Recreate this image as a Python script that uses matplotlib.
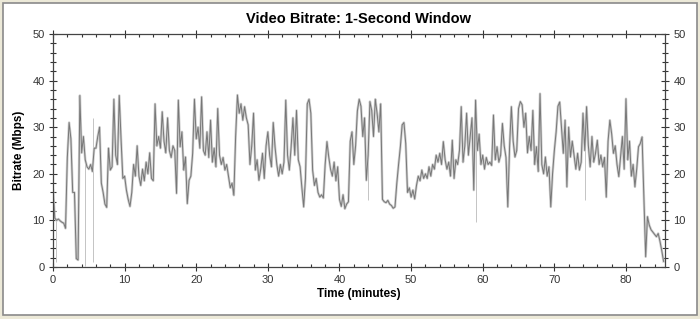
import numpy as np
import matplotlib
matplotlib.use('Agg')
import matplotlib.pyplot as plt
from matplotlib.patches import Rectangle
from matplotlib.ticker import MultipleLocator

plt.rcParams['font.family'] = ['Liberation Sans', 'DejaVu Sans']

# bitrate (Mbps), one value every 15 s, one row per minute
bitrate = [
    16.5, 10.5, 10.0, 10.3,   # 0
    9.9, 9.6, 9.4, 8.3,       # 1
    23.5, 31.0, 27.5, 16.0,   # 2
    16.0, 1.8, 1.5, 36.8,     # 3
    24.5, 28.0, 23.0, 21.5,   # 4
    21.0, 22.0, 20.5, 25.5,   # 5
    25.5, 28.0, 30.0, 18.0,   # 6
    16.0, 13.5, 12.8, 25.5,   # 7
    20.8, 21.5, 36.0, 24.0,   # 8
    22.0, 36.8, 27.5, 19.0,   # 9
    19.5, 16.5, 14.5, 13.0,   # 10
    16.0, 22.0, 19.5, 26.0,   # 11
    19.5, 17.5, 21.0, 18.5,   # 12
    22.5, 20.0, 24.5, 19.0,   # 13
    18.5, 35.0, 26.0, 28.0,   # 14
    25.5, 33.3, 27.0, 24.5,   # 15
    32.0, 25.0, 23.5, 26.0,   # 16
    25.0, 15.8, 35.8, 25.8,   # 17
    29.0, 20.8, 23.6, 13.6,   # 18
    18.6, 19.5, 24.4, 36.0,   # 19
    27.5, 30.0, 25.5, 36.5,   # 20
    25.0, 24.0, 29.0, 23.5,   # 21
    31.5, 22.5, 25.5, 21.5,   # 22
    34.0, 24.0, 22.0, 23.5,   # 23
    20.8, 22.0, 19.5, 17.0,   # 24
    18.0, 15.4, 28.0, 36.9,   # 25
    33.0, 35.0, 31.5, 34.4,   # 26
    32.0, 30.5, 22.0, 26.0,   # 27
    33.0, 20.8, 23.0, 18.6,   # 28
    21.0, 24.4, 19.0, 26.0,   # 29
    29.0, 24.0, 21.5, 31.0,   # 30
    25.8, 22.0, 19.5, 22.0,   # 31
    20.0, 22.5, 35.8, 24.0,   # 32
    20.8, 25.8, 32.0, 24.0,   # 33
    33.6, 23.0, 21.5, 17.0,   # 34
    12.9, 19.0, 35.0, 36.0,   # 35
    33.0, 20.8, 17.5, 19.0,   # 36
    16.0, 15.0, 15.5, 14.8,   # 37
    22.0, 26.9, 23.6, 21.0,   # 38
    19.5, 22.5, 18.5, 21.5,   # 39
    14.5, 13.0, 15.5, 12.5,   # 40
    13.5, 14.0, 27.0, 29.0,   # 41
    22.0, 26.0, 33.5, 36.0,   # 42
    34.5, 28.0, 32.0, 18.6,   # 43
    24.0, 35.5, 33.6, 28.0,   # 44
    36.0, 33.0, 29.0, 35.0,   # 45
    14.5, 14.0, 13.8, 14.3,   # 46
    13.5, 13.2, 12.6, 12.9,   # 47
    17.9, 22.0, 25.8, 30.5,   # 48
    31.0, 26.5, 16.0, 17.0,   # 49
    15.0, 16.5, 14.6, 17.5,   # 50
    19.5, 18.5, 20.8, 19.0,   # 51
    20.0, 19.0, 21.5, 19.5,   # 52
    22.0, 21.0, 24.0, 22.5,   # 53
    24.4, 22.0, 26.9, 23.0,   # 54
    21.0, 22.5, 19.5, 27.2,   # 55
    19.0, 23.0, 22.0, 25.0,   # 56
    34.4, 22.5, 26.0, 33.0,   # 57
    24.0, 28.0, 32.0, 16.5,   # 58
    35.8, 25.0, 28.5, 22.0,   # 59
    24.0, 21.0, 23.5, 22.0,   # 60
    22.5, 21.8, 32.6, 23.0,   # 61
    25.8, 22.5, 24.0, 30.8,   # 62
    26.0, 23.5, 12.9, 25.8,   # 63
    34.4, 27.0, 23.6, 25.0,   # 64
    34.0, 35.5, 34.8, 30.0,   # 65
    33.0, 24.5, 28.0, 25.0,   # 66
    33.6, 22.0, 25.8, 20.5,   # 67
    37.2, 22.0, 20.0, 23.6,   # 68
    19.5, 21.5, 12.9, 20.0,   # 69
    25.0, 29.0, 34.5, 35.4,   # 70
    30.0, 24.4, 31.5, 17.2,   # 71
    30.0, 23.6, 27.0, 24.0,   # 72
    21.0, 24.4, 20.8, 22.5,   # 73
    33.0, 25.0, 34.4, 26.0,   # 74
    21.5, 28.0, 22.5, 24.4,   # 75
    27.2, 22.0, 24.0, 21.5,   # 76
    23.5, 15.0, 27.0, 31.5,   # 77
    28.6, 24.4, 26.0, 22.0,   # 78
    19.4, 23.6, 28.0, 21.0,   # 79
    36.1, 23.0, 27.0, 19.5,   # 80
    22.0, 17.2, 21.0, 25.8,   # 81
    26.5, 27.9, 15.0, 2.2,    # 82
    10.8, 9.0, 8.0, 7.5,      # 83
    7.0, 6.5, 7.2, 5.5,       # 84
    3.5, 1.2,                 # 85
]
minutes = np.arange(len(bitrate)) * 0.25

# short light-grey peaks / drops
spike_t = [0.35, 4.47, 5.58, 44.05, 59.0, 74.3]
spike_lo = [1.0, 0.3, 1.0, 14.4, 9.7, 14.4]
spike_hi = [10.5, 23.0, 32.0, 30.0, 35.8, 30.0]

fig = plt.figure(figsize=(7.0, 3.19), dpi=100)
fig.patch.set_facecolor('#ece9d8')
frame = Rectangle((3 / 700, 4 / 319), 694 / 700, 312 / 319,
                  transform=fig.transFigure, facecolor='white',
                  edgecolor='#8a8a8a', linewidth=1.2, zorder=-5)
fig.patches.append(frame)

ax = fig.add_axes([53 / 700, 1 - 267 / 319, 612 / 700, 233 / 319])
ax.set_zorder(2)
ax.set_facecolor('white')

ax.vlines(spike_t, spike_lo, spike_hi, color='#c4c4c4', linewidth=0.7)
ax.plot(minutes, bitrate, color='#cdcdcd', linewidth=1.8)
ax.plot(minutes, bitrate, color='#777777', linewidth=0.7)

ax.set_xlim(0, 85.45)
ax.set_ylim(0, 50)
ax.xaxis.set_major_locator(MultipleLocator(10))
ax.xaxis.set_minor_locator(MultipleLocator(2))
ax.yaxis.set_major_locator(MultipleLocator(10))
ax.yaxis.set_minor_locator(MultipleLocator(2))

ax.tick_params(axis='both', which='both', colors='#333333', labelsize=8,
               top=True, right=True, labelright=True)
ax.tick_params(axis='y', which='major', direction='inout', length=6, width=0.8, pad=3)
ax.tick_params(axis='y', which='minor', direction='inout', length=4, width=0.8)
ax.tick_params(axis='x', which='major', direction='inout', length=6, width=0.8, pad=3)
ax.tick_params(axis='x', which='minor', direction='in', length=2.5, width=0.8)
for s in ax.spines.values():
    s.set_color('#444444')
    s.set_linewidth(0.9)

ax.set_title('Video Bitrate: 1-Second Window', fontsize=10.5, fontweight='bold', pad=8)
ax.set_xlabel('Time (minutes)', fontsize=8.5, fontweight='bold', labelpad=2)
ax.set_ylabel('Bitrate (Mbps)', fontsize=8.5, fontweight='bold', labelpad=5)

fig.savefig('out.png', dpi=100, facecolor=fig.get_facecolor())
